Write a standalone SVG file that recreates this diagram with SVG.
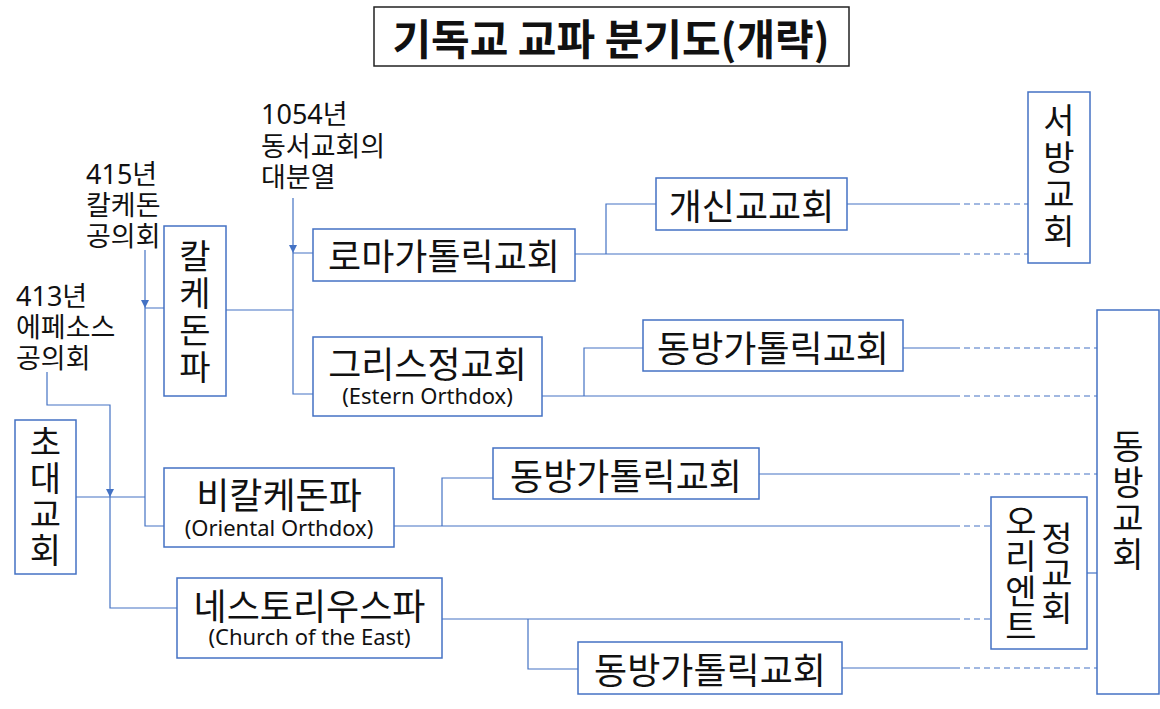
<svg xmlns="http://www.w3.org/2000/svg" width="1160" height="709" viewBox="0 0 1160 709">
<style>
.bx{fill:#fff;stroke:#4472C4;stroke-width:1.5}
.c{fill:none;stroke:#4472C4;stroke-width:1.2}
.d{fill:none;stroke:#4472C4;stroke-width:1.2;stroke-dasharray:6 4}
.k{font-family:"Noto Sans CJK KR","Noto Sans",sans-serif;fill:#111}
.m{font-size:36px;text-anchor:middle;dominant-baseline:central}
.s{font-family:"Noto Sans","Noto Sans CJK KR",sans-serif;font-size:22px;text-anchor:middle;fill:#111}
.a{font-family:"Noto Sans","Noto Sans CJK KR",sans-serif;font-size:27px;fill:#111}
.v{font-size:34px;text-anchor:middle;writing-mode:vertical-rl;text-orientation:upright}
.ah{fill:#4472C4}
</style>
<rect width="1160" height="709" fill="#fff"/>
<g id="title">
<rect x="374" y="7" width="475" height="59" fill="#fff" stroke="#222" stroke-width="1.5"/>
<text class="k" x="611" y="36" font-size="42" font-weight="bold" text-anchor="middle" dominant-baseline="central">기독교 교파 분기도(개략)</text>
</g>
<g id="connectors">
<path class="c" d="M47,372 V405 H110 V608 H177"/>
<path class="c" d="M76,497 H145"/>
<path class="c" d="M145,250 V526 H164 M145,308 H164"/>
<path class="c" d="M226,310 H293"/>
<path class="c" d="M293,198 V394 H313 M293,253 H313"/>
<path class="c" d="M575,254 H954 M606,254 V204 H656 M847,204 H954"/>
<path class="d" d="M954,204 H1028 M954,254 H1028"/>
<path class="c" d="M542,396 H954 M584,396 V348 H643 M903,348 H954"/>
<path class="d" d="M954,348 H1097 M954,396 H1097"/>
<path class="c" d="M394,526 H954 M442,526 V478 H493 M759,474 H954"/>
<path class="d" d="M954,474 H1097 M954,526 H991"/>
<path class="c" d="M442,619 H954 M528,619 V669 H578 M842,668 H954"/>
<path class="d" d="M954,619 H991 M954,668 H1097"/>
<path class="c" d="M1087,573 H1097"/>
<path class="ah" d="M106,489 H114 L110,497 Z"/>
<path class="ah" d="M141,300 H149 L145,308 Z"/>
<path class="ah" d="M289,245 H297 L293,253 Z"/>
</g>
<g id="ann1054"><text class="a" x="261" y="124">1054년</text><text class="a" x="261" y="156">동서교회의</text><text class="a" x="261" y="187">대분열</text></g>
<g id="ann415"><text class="a" x="86" y="184">415년</text><text class="a" x="86" y="215">칼케돈</text><text class="a" x="86" y="246">공의회</text></g>
<g id="ann413"><text class="a" x="16" y="306">413년</text><text class="a" x="16" y="337">에페소스</text><text class="a" x="16" y="368">공의회</text></g>
<g id="n-early">
<rect class="bx" x="15" y="420" width="61" height="154"/>
<text class="k v" x="45.5" y="497" letter-spacing="2">초대교회</text>
</g>
<g id="n-chalcedon">
<rect class="bx" x="164" y="226" width="62" height="170"/>
<text class="k v" x="195" y="313" letter-spacing="3">칼케돈파</text>
</g>
<g id="n-roman">
<rect class="bx" x="313" y="229" width="262" height="52"/>
<text class="k m" x="444" y="254">로마가톨릭교회</text>
</g>
<g id="n-greek">
<rect class="bx" x="313" y="337" width="229" height="79"/>
<text class="k m" x="427.5" y="362">그리스정교회</text>
<text class="s" x="427.5" y="404">(Estern Orthdox)</text>
</g>
<g id="n-nonchalcedon">
<rect class="bx" x="164" y="468" width="230" height="79"/>
<text class="k m" x="279" y="493">비칼케돈파</text>
<text class="s" x="279" y="536">(Oriental Orthdox)</text>
</g>
<g id="n-nestorian">
<rect class="bx" x="177" y="578" width="265" height="80"/>
<text class="k m" x="309.5" y="604">네스토리우스파</text>
<text class="s" x="309.5" y="645">(Church of the East)</text>
</g>
<g id="n-protestant">
<rect class="bx" x="656" y="178" width="191" height="52"/>
<text class="k m" x="751.5" y="204">개신교교회</text>
</g>
<g id="n-ecath1">
<rect class="bx" x="643" y="320" width="260" height="51"/>
<text class="k m" x="773" y="346">동방가톨릭교회</text>
</g>
<g id="n-ecath2">
<rect class="bx" x="493" y="448" width="266" height="51"/>
<text class="k m" x="626" y="474">동방가톨릭교회</text>
</g>
<g id="n-ecath3">
<rect class="bx" x="578" y="642" width="264" height="52"/>
<text class="k m" x="710" y="668">동방가톨릭교회</text>
</g>
<g id="n-western">
<rect class="bx" x="1028" y="92" width="62" height="171"/>
<text class="k v" x="1059" y="177" letter-spacing="3">서방교회</text>
</g>
<g id="n-eastern">
<rect class="bx" x="1097" y="310" width="62" height="384"/>
<text class="k v" x="1128" y="501" letter-spacing="2">동방교회</text>
</g>
<g id="n-oriental">
<rect class="bx" x="991" y="497" width="96" height="152"/>
<text class="k v" x="1021" y="574" font-size="32" letter-spacing="1">오리엔트</text>
<text class="k v" x="1057" y="574" font-size="32" letter-spacing="1">정교회</text>
</g>
</svg>
